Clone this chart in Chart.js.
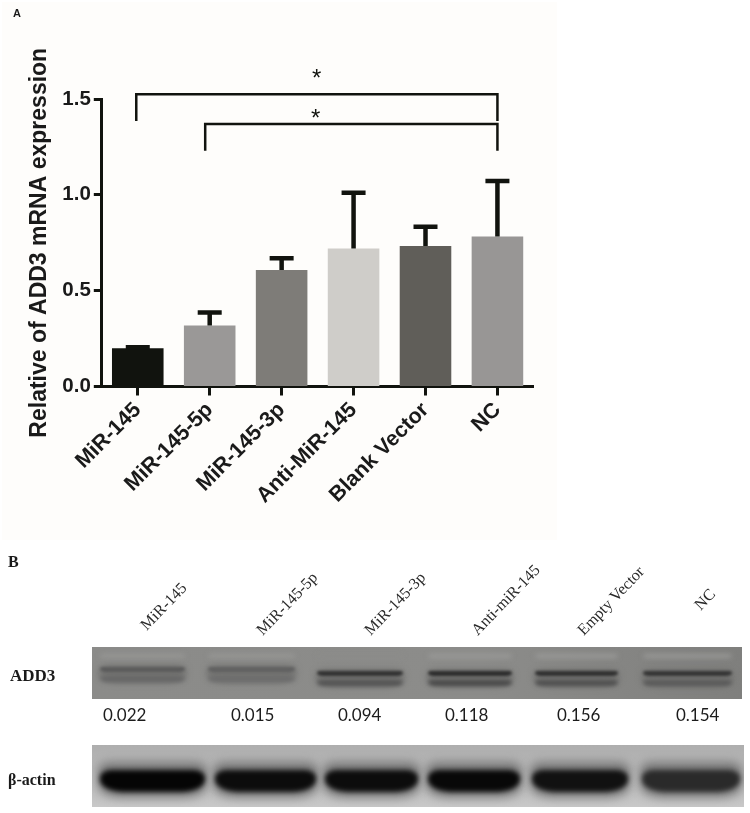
<!DOCTYPE html>
<html>
<head>
<meta charset="utf-8">
<title>ADD3 expression</title>
<script src="https://cdn.jsdelivr.net/npm/chart.js@4/dist/chart.umd.min.js"></script>
<style>
  html, body { margin: 0; padding: 0; background: #fff; }
  body { position: relative; width: 750px; height: 813px; overflow: hidden; }
  #panel-a-bg { position: absolute; left: 2px; top: 2px; width: 555px; height: 538px; background: #fefdfb; }
  #chart { position: absolute; left: 0; top: 0; }
  .t { position: absolute; white-space: nowrap; line-height: 1; color: #222; }
  .serif { font-family: "Liberation Serif", serif; }
  .rot { font-size: 16px; color: #2a2a2a; transform-origin: 0 100%; transform: rotate(-46deg); }
  .num { font-family: Lato, sans-serif; font-size: 17px; color: #1c1c1c; }
  .name { font-weight: bold; font-size: 16px; color: #1a1a1a; }
  .gel { position: absolute; overflow: hidden; }
  .band { position: absolute; border-radius: 12px 12px 24px 24px / 8px 8px 12px 12px; }
</style>
</head>
<body>
<div id="panel-a-bg"></div>
<canvas id="chart" width="750" height="813"></canvas>
<div id="panel-b"></div>
<script>
// Panel A data
const categories = ["MiR-145", "MiR-145-5p", "MiR-145-3p", "Anti-MiR-145", "Blank Vector", "NC"];
const expression = [0.2, 0.318, 0.608, 0.72, 0.733, 0.782];
const errorTop = [0.205, 0.386, 0.669, 1.011, 0.834, 1.072];
const barColors = ["#11130e", "#9a9897", "#7e7c78", "#cfcdc9", "#605e59", "#989695"];
const yTicks = [0, 0.5, 1, 1.5];

// Panel B data
const blotLabels = ["MiR-145", "MiR-145-5p", "MiR-145-3p", "Anti-miR-145", "Empty Vector", "NC"];
const blotValues = ["0.022", "0.015", "0.094", "0.118", "0.156", "0.154"];

// error bars and significance brackets, drawn off the chart's own scales
const annotations = {
  id: "annotations",
  afterDatasetsDraw(chart) {
    const ctx = chart.ctx;
    const x = chart.scales.x;
    const y = chart.scales.y;
    ctx.save();
    ctx.strokeStyle = "#11130e";
    ctx.lineWidth = 4.5;
    ctx.lineCap = "butt";
    errorTop.forEach(function (top, i) {
      const cx = x.getPixelForValue(i);
      ctx.beginPath();
      ctx.moveTo(cx, y.getPixelForValue(expression[i]));
      ctx.lineTo(cx, y.getPixelForValue(top));
      ctx.moveTo(cx - 12, y.getPixelForValue(top));
      ctx.lineTo(cx + 12, y.getPixelForValue(top));
      ctx.stroke();
    });
    ctx.lineWidth = 2.5;
    ctx.lineJoin = "miter";
    drawBracket(ctx, x.getPixelForValue(0) - 1.5, x.getPixelForValue(5), y.getPixelForValue(1.525), y.getPixelForValue(1.385));
    drawBracket(ctx, x.getPixelForValue(1) - 4.5, x.getPixelForValue(5), y.getPixelForValue(1.37), y.getPixelForValue(1.23));
    ctx.fillStyle = "#11130e";
    ctx.font = '24px "Liberation Sans"';
    ctx.textAlign = "center";
    ctx.textBaseline = "middle";
    ctx.fillText("*", x.getPixelForValue(2.5) - 1, y.getPixelForValue(1.6));
    ctx.fillText("*", x.getPixelForValue(2.5) - 2, y.getPixelForValue(1.392));
    ctx.restore();
  },
};

function drawBracket(ctx, left, right, top, bottom) {
  ctx.beginPath();
  ctx.moveTo(left, bottom);
  ctx.lineTo(left, top);
  ctx.lineTo(right, top);
  ctx.lineTo(right, bottom);
  ctx.stroke();
}

new Chart("chart", {
  type: "bar",
  data: {
    labels: categories,
    datasets: [{ data: expression, backgroundColor: barColors, barPercentage: 0.717, categoryPercentage: 1 }],
  },
  options: {
    responsive: false,
    animation: false,
    layout: { padding: { left: 26, top: 99, right: 216.6, bottom: 0 } },
    plugins: { legend: { display: false }, tooltip: { enabled: false } },
    scales: {
      x: {
        grid: { drawOnChartArea: false, tickLength: 9, tickWidth: 3, tickColor: "#11130e", offset: false },
        border: { width: 3, color: "#11130e" },
        ticks: {
          minRotation: 45, maxRotation: 45, padding: 2, color: "#1a1a1a",
          font: { family: '"Liberation Sans"', size: 21.5, weight: "bold" },
        },
        afterFit(scale) { scale.height = 426.5; },
      },
      y: {
        min: 0,
        max: 1.5,
        afterBuildTicks(scale) { scale.ticks = yTicks.map(function (v) { return { value: v }; }); },
        grid: { drawOnChartArea: false, tickLength: 8, tickWidth: 3, tickColor: "#11130e" },
        border: { width: 3, color: "#11130e" },
        ticks: {
          padding: 3, color: "#1a1a1a",
          font: { family: '"Liberation Sans"', size: 20.5, weight: "bold" },
          callback(v) { return v.toFixed(1); },
        },
        title: {
          display: true, text: "Relative of ADD3 mRNA expression", color: "#1a1a1a",
          font: { family: '"Liberation Sans"', size: 23, weight: "bold" },
          padding: 0,
        },
        afterFit(scale) { scale.width = 75.8; },
      },
    },
  },
  plugins: [annotations],
});

// Panel B is a photographed blot, so it is plain page elements around the text
const panel = document.getElementById("panel-b");

function addText(cls, text, left, top) {
  const el = document.createElement("div");
  el.className = "t " + cls;
  el.textContent = text;
  el.style.left = left + "px";
  el.style.top = top + "px";
  panel.appendChild(el);
  return el;
}

function addGel(left, top, width, height, background) {
  const el = document.createElement("div");
  el.className = "gel";
  el.style.cssText = "left:" + left + "px;top:" + top + "px;width:" + width + "px;height:" + height + "px;background:" + background;
  panel.appendChild(el);
  return el;
}

function addBand(gel, left, top, width, height, color, blur) {
  const el = document.createElement("div");
  el.className = "band";
  el.style.cssText = "left:" + left + "px;top:" + top + "px;width:" + width + "px;height:" + height + "px;background:" + color + ";filter:blur(" + blur + "px)";
  gel.appendChild(el);
}

addText("name", "A", 13, 7).style.cssText += 'font:bold 11px "Liberation Sans";';
addText("serif name", "B", 8, 554);
addText("serif name", "ADD3", 10, 667).style.fontSize = "17px";
addText("serif name", "\u03b2-actin", 8, 772);

const labelStarts = [[149, 617], [265, 622], [373, 622], [480, 622], [586, 622], [703, 597]];
blotLabels.forEach(function (label, i) {
  addText("serif rot", label, labelStarts[i][0], labelStarts[i][1]);
});

const valueLefts = [103, 231, 338, 445, 557, 676];
blotValues.forEach(function (value, i) {
  addText("num", value, valueLefts[i], 706);
});

const add3 = addGel(92, 647, 650, 52, "linear-gradient(90deg,#8b8b89,#8c8c8a 60%,#7f7f7d)");
const add3Lanes = [[8, 85, 0], [116, 87, 0], [225, 86, 4], [336, 84, 4], [443, 83, 4], [551, 89, 4]];
const upperBand = ["#5a5a5a", "#606060", "#303030", "#2a2a2a", "#2e2e2e", "#333"];
const lowerBand = ["#666", "#6c6c6c", "#525252", "#484848", "#4e4e4e", "#585858"];
const faintBand = ["#979795", "#979795", "#8c8c8a", "#9a9a98", "#9a9a98", "#999997"];
add3Lanes.forEach(function (lane, i) {
  addBand(add3, lane[0], 7, lane[1], 4, faintBand[i], 2.5);
  addBand(add3, lane[0] - 2, 18 + lane[2], lane[1] + 4, 18, "#747472", 3);
  addBand(add3, lane[0], 20 + lane[2], lane[1], 5, upperBand[i], 1.8);
  addBand(add3, lane[0], 29 + lane[2], lane[1], 6, lowerBand[i], 2);
});

const actin = addGel(92, 745, 652, 62, "linear-gradient(180deg,#aeaeae,#bababa 50%,#c8c8c8)");
const actinLanes = [[8, 105, "#050505"], [123, 101, "#0c0c0c"], [233, 93, "#0c0c0c"], [336, 92, "#080808"], [440, 96, "#111"], [550, 98, "#2a2a2a"]];
actinLanes.forEach(function (lane) {
  addBand(actin, lane[0] - 2, 17, lane[1] + 4, 36, "rgba(70,70,70,0.55)", 5);
  addBand(actin, lane[0], 25, lane[1], 22, lane[2], 2.5);
});
</script>
</body>
</html>
